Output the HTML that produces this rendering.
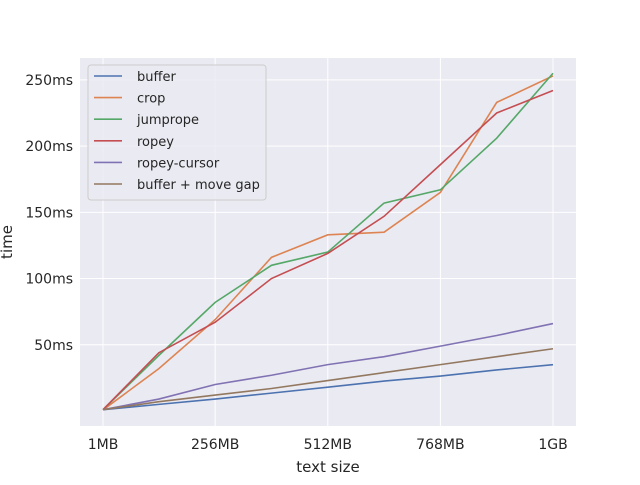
<!DOCTYPE html>
<html><head><meta charset="utf-8"><style>
body{margin:0;background:#fff;font-family:"Liberation Sans","DejaVu Sans",sans-serif}
svg text{font-family:"DejaVu Sans","Liberation Sans",sans-serif;fill:#262626}
</style></head><body>
<svg id="chart" width="640" height="480" xmlns="http://www.w3.org/2000/svg">
<rect x="80" y="58" width="496" height="368" fill="#eaeaf2"/>
<g id="grid"></g><g id="lines"></g><g id="ticks"></g>
<text x="328" y="472" font-size="15" text-anchor="middle">text size</text>
<text x="12" y="242" font-size="15" text-anchor="middle" transform="rotate(-90 12 242)">time</text>
<g id="legend"></g>
</svg>
<script>
const xs=[1,128,256,384,512,640,768,896,1024];
const seriesNames=["buffer","crop","jumprope","ropey","ropey-cursor","buffer + move gap"];
const colors=["#4c72b0","#dd8452","#55a868","#c44e52","#8172b3","#937860"];
const buffer=[1,5,9,13.5,18,22.6,26.4,31,35];
const crop=[0.8,32,69,116,133,135,165,233,253];
const jumprope=[1,42,82,110,120,157,167,206,255];
const ropey=[1,44,67,100,119,147,186,225,242];
const ropeyCursor=[1,9,20,27,35,41,49,57,66];
const moveGap=[1,7,12,17,23,29,35,41,47];
const xTickVals=[1,256,512,768,1024];
const xTickLabels=["1MB","256MB","512MB","768MB","1GB"];
const yTickVals=[50,100,150,200,250];
const yTickLabels=["50ms","100ms","150ms","200ms","250ms"];
const all=[buffer,crop,jumprope,ropey,ropeyCursor,moveGap];
const NS="http://www.w3.org/2000/svg";
const X=v=>103+(v-1)*(553-103)/1023;
const Y=v=>411-v*1.3245;
function mk(t,a,p){const e=document.createElementNS(NS,t);for(const k in a)e.setAttribute(k,a[k]);p.appendChild(e);return e;}
const grid=document.getElementById('grid'),ticks=document.getElementById('ticks');
xTickVals.forEach((v,i)=>{
 const l=mk('line',{x1:X(v),x2:X(v),y1:58,y2:426,stroke:'#fff','stroke-width':1},grid);
 
 
 const t=mk('text',{x:X(v),y:449,'font-size':14,'text-anchor':'middle'},ticks);t.textContent=xTickLabels[i];
 
 
});
yTickVals.forEach((v,i)=>{
 const l=mk('line',{x1:80,x2:576,y1:Y(v),y2:Y(v),stroke:'#fff','stroke-width':1},grid);
 
 
 const t=mk('text',{x:73,y:Y(v)+5,'font-size':14,'text-anchor':'end'},ticks);t.textContent=yTickLabels[i];
 
 
});
const lines=document.getElementById('lines');
all.forEach((s,i)=>{
 const p=mk('polyline',{points:s.map((v,j)=>X(xs[j])+','+Y(v)).join(' '),fill:'none',stroke:colors[i],'stroke-width':1.6},lines);
 
 
});
const lg=document.getElementById('legend');
mk('rect',{x:88,y:65,width:178,height:135,rx:3,fill:'#eaeaf2',stroke:'#ccc','fill-opacity':0.8},lg);
seriesNames.forEach((n,i)=>{
 const y=76+i*21.6;
 const g=mk('g',{},lg);
 
 
 mk('line',{x1:94,x2:122,y1:y,y2:y,stroke:colors[i],'stroke-width':1.6},g);
 const t=mk('text',{x:137,y:y+5,'font-size':13},g);t.textContent=n;
});
</script>
</body></html>
